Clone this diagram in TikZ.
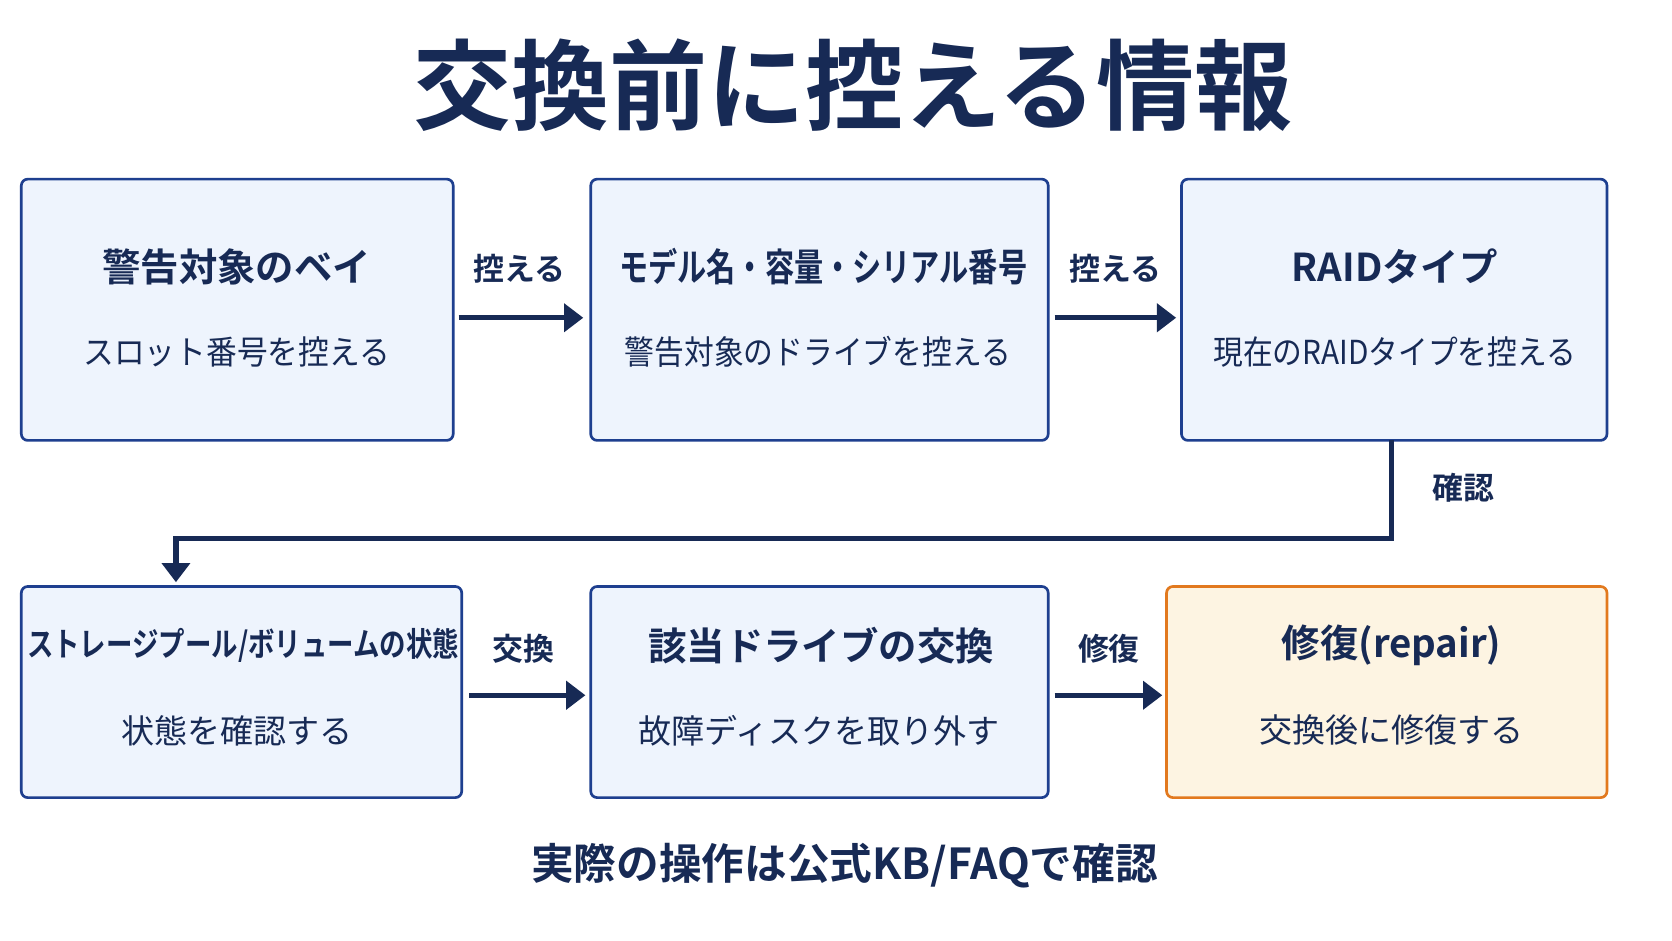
\documentclass[tikz,border=0pt]{standalone}
\usepackage{fontspec}
\usepackage{graphicx}
\setmainfont{Noto Sans CJK JP}[BoldFont={Noto Sans CJK JP Bold}]
\usetikzlibrary{arrows.meta}
\definecolor{navy}{HTML}{172A55}
\definecolor{boxline}{HTML}{1E3F8F}
\definecolor{boxfill}{HTML}{EEF4FD}
\definecolor{orline}{HTML}{E2791E}
\definecolor{orfill}{HTML}{FDF4E2}
\newcommand{\narrow}[2]{\scalebox{#1}[1]{#2}}

\tikzset{
  stepbox/.style={draw=boxline,fill=boxfill,line width=2.5pt,rounded corners=6pt},
  donebox/.style={draw=orline,fill=orfill,line width=2.5pt,rounded corners=6pt},
  head/.style={font=\bfseries\fontsize{36}{40}\selectfont,text=navy},
  sub/.style={font=\fontsize{31}{36}\selectfont,text=navy},
  lab/.style={font=\bfseries\fontsize{29}{34}\selectfont,text=navy},
  flow/.style={draw=navy,line width=5pt,-{Triangle[length=18pt,width=26pt]}}
}

\begin{document}
\begin{tikzpicture}[x=1pt,y=-1pt]
	\useasboundingbox[fill=white] (0,0) rectangle (1568,882);

	\node (title) [font=\bfseries\fontsize{92}{100}\selectfont,text=navy] at (800,80) {交換前に控える情報};

	% upper row
	\draw[stepbox] (20,168) rectangle (425,413);
	\draw[stepbox] (554,168) rectangle (983,413);
	\draw[stepbox] (1108,168) rectangle (1507,413);
	\node (bay head) [head] at (222,250) {警告対象のベイ};
	\node (bay sub) [sub] at (222,330) {\narrow{0.93}{スロット番号を控える}};
	\node (model head) [head] at (772,250) {\narrow{0.76}{モデル名・容量・シリアル番号}};
	\node (model sub) [sub] at (767,330) {\narrow{0.9}{警告対象のドライブを控える}};
	\node (raid head) [head] at (1308,250) {RAIDタイプ};
	\node (raid sub) [sub] at (1308,330) {\narrow{0.9}{現在のRAIDタイプを控える}};

	% lower row
	\draw[stepbox] (20,550) rectangle (433,748);
	\draw[stepbox] (554,550) rectangle (983,748);
	\draw[donebox] (1094,550) rectangle (1507,748);
	\node (pool head) [head,font=\bfseries\fontsize{31}{36}\selectfont] at (228,605) {\narrow{0.8}{ストレージプール/ボリュームの状態}};
	\node (pool sub) [sub] at (222,685) {状態を確認する};
	\node (swap head) [head] at (770,605) {該当ドライブの交換};
	\node (swap sub) [sub] at (768,685) {故障ディスクを取り外す};
	\node (fix head) [head] at (1305,605) {修復(repair)};
	\node (fix sub) [sub] at (1305,685) {交換後に修復する};

	% connectors
	\coordinate (a1) at (430,298); \coordinate (b1) at (547,298);
	\coordinate (a2) at (989,298); \coordinate (b2) at (1103,298);
	\coordinate (a3) at (1305,413); \coordinate (b3) at (165,546);
	\coordinate (a4) at (440,652); \coordinate (b4) at (549,652);
	\coordinate (a5) at (989,652); \coordinate (b5) at (1090,652);
	\draw[flow] (a1) -- (b1);
	\draw[flow] (a2) -- (b2);
	\draw[flow] (a3) |- (730,505) -| (b3);
	\draw[flow] (a4) -- (b4);
	\draw[flow] (a5) -- (b5);
	\node (l1) [lab] at (487,252) {控える};
	\node (l2) [lab] at (1046,252) {控える};
	\node (l3) [lab] at (1372,457) {確認};
	\node (l4) [lab] at (491,608) {交換};
	\node (l5) [lab] at (1040,608) {修復};

	\node (foot) [font=\bfseries\fontsize{40}{46}\selectfont,text=navy] at (792,812) {実際の操作は公式KB/FAQで確認};
\end{tikzpicture}
\end{document}
